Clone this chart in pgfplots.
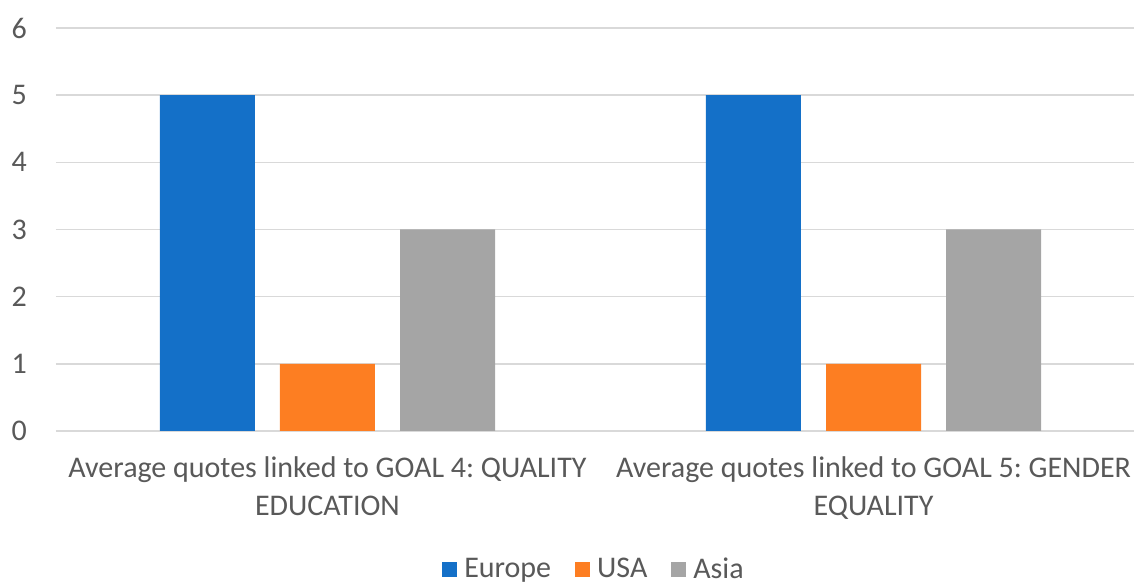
\documentclass[border=0pt]{standalone}
\usepackage{pgfplots}
\pgfplotsset{compat=1.18}
\usepackage{fontspec}
\setmainfont{Carlito}
\frenchspacing
\definecolor{europe}{HTML}{1470C8}
\definecolor{usa}{HTML}{FD7E22}
\definecolor{asia}{HTML}{A5A5A5}
\definecolor{gridgray}{HTML}{D9D9D9}
\definecolor{textgray}{HTML}{595959}
\begin{document}
\begin{tikzpicture}[x=1pt,y=1pt]
\useasboundingbox (0,0) rectangle (567,291.5);
\begin{axis}[
  at={(28pt,76pt)}, anchor=south west,
  scale only axis, width=539pt, height=201.5pt,
  xmin=-0.497, xmax=1.477, ymin=0, ymax=6,
  axis line style={draw=none},
  major tick length=0pt,
  /pgf/number format/assume math mode=true,
  ytick={0,1,2,3,4,5,6},
  xtick={0,1},
  xticklabels={{Average quotes linked to GOAL 4: QUALITY\\EDUCATION},
               {Average quotes linked to GOAL 5: GENDER\\EQUALITY}},
  xticklabel style={align=center, yshift=-9.5pt},
  yticklabel style={xshift=-11pt},
  tick label style={font=\fontsize{15}{18.8}\selectfont, text=textgray},
  ymajorgrids, grid style={gridgray, line width=0.75pt},
  legend style={at={(0.5,-0.343)}, anchor=center, draw=none,
    font=\fontsize{15}{18}\selectfont, text=textgray,
    /tikz/every odd column/.append style={column sep=1.5pt},
    /tikz/every even column/.append style={column sep=10pt}},
  legend columns=-1,
  legend image code/.code={\fill[#1,draw=none] (0pt,-3.75pt) rectangle (7.5pt,3.75pt);},
  clip=false,
]
\addplot[ybar, bar width=0.174, bar shift=-0.22, fill=europe, draw=none]
  coordinates {(0,5) (1,5)};
\addplot[ybar, bar width=0.174, bar shift=0, fill=usa, draw=none]
  coordinates {(0,1) (1,1)};
\addplot[ybar, bar width=0.174, bar shift=0.22, fill=asia, draw=none]
  coordinates {(0,3) (1,3)};
\legend{Europe,USA,Asia}
\end{axis}
\end{tikzpicture}
\end{document}
